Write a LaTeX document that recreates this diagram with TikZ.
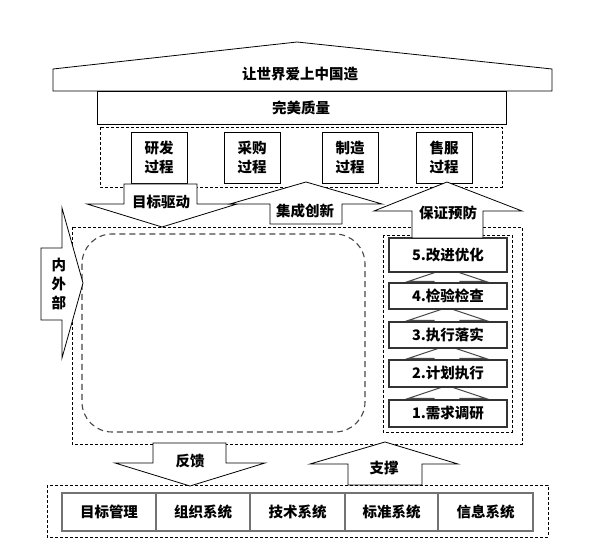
\documentclass[tikz,border=0pt]{standalone}
\usepackage{fontspec}
\newfontfamily\cjk{Noto Sans CJK SC}
\begin{document}
\begin{tikzpicture}[x=1pt,y=-1pt,
  lbl/.style={font=\cjk\bfseries\fontsize{14.5}{19}\selectfont, inner sep=0pt, align=center},
  shapeline/.style={draw=black, line width=0.8pt, fill=white, line join=miter},
  dashbox/.style={draw=black, line width=0.6pt, dash pattern=on 3pt off 2pt},
  rdash/.style={draw=black!72, line width=1.1pt, dash pattern=on 6pt off 4pt, rounded corners=30pt},
  procbox/.style={lbl, draw=black, line width=0.8pt, fill=white, minimum width=56pt, minimum height=51pt},
  stepbox/.style={lbl, draw=black!80, line width=1.2pt, fill=white, minimum width=118pt},
  stepar/.style={draw=black!70, line width=1.1pt, fill=white},
  sysbox/.style={lbl, draw=black!55, line width=1.8pt, fill=white, minimum height=38pt}
]
\useasboundingbox (0,0) rectangle (598,556);
\fill[white] (0,0) rectangle (598,556);

% roof
\draw[shapeline] (53,91) -- (53,69) -- (297,42) -- (552,69) -- (552,91) -- cycle;
\node[lbl] (roof) at (300,74) {让世界爱上中国造};
% quality
\draw[shapeline] (97,91) rectangle (506,124);
\node[lbl] (quality) at (301,108) {完美质量};

% dashed containers
\draw[dashbox] (100,127) rectangle (502,187);
\draw[dashbox] (72,227) rectangle (522,444);
\draw[rdash] (82,234) rectangle (365,432);
\draw[dashbox] (383,235) rectangle (512,432);
\draw[dashbox] (47,485) rectangle (548,537);

% process boxes
\node[procbox] (p1) at (159,157.5) {研发\\过程};
\node[procbox] (p2) at (252,157.5) {采购\\过程};
\node[procbox] (p3) at (350,157.5) {制造\\过程};
\node[procbox] (p4) at (444,157.5) {售服\\过程};

% big arrows
\draw[shapeline] (124,184) -- (197,184) -- (197,204) -- (237,204) -- (162,227) -- (87,204) -- (124,204) -- cycle;
\node[lbl] (a1) at (161,202) {目标驱动};
\draw[shapeline] (306,182) -- (382,204) -- (342,204) -- (342,224) -- (270,224) -- (270,204) -- (230,204) -- cycle;
\node[lbl] (a2) at (305,211) {集成创新};

% step arrows
\foreach \b in {398.5,358.5,320.5,281.5}{
  \draw[stepar] (447,\b-13) -- (486,\b) -- (460,\b) -- (460,\b+8) -- (434,\b+8) -- (434,\b) -- (408,\b) -- cycle;
}
% step boxes
\node[stepbox, minimum height=34pt] (s5) at (448,255) {5.改进优化};
\node[stepbox, minimum height=26pt] (s4) at (448,296) {4.检验检查};
\node[stepbox, minimum height=26pt] (s3) at (448,335) {3.执行落实};
\node[stepbox, minimum height=27pt] (s2) at (448,373.5) {2.计划执行};
\node[stepbox, minimum height=27pt] (s1) at (448,413.5) {1.需求调研};

\draw[shapeline] (447,182) -- (522,211) -- (483,211) -- (483,238) -- (412,238) -- (412,211) -- (374,211) -- cycle;
\node[lbl] (a3) at (448,213) {保证预防};

% inner/outer arrow
\draw[shapeline] (41,248) -- (62,248) -- (62,208) -- (83,283) -- (62,358) -- (62,320) -- (41,320) -- cycle;
\node[lbl] (a4) at (59,284) {内\\外\\部};

% feedback / support
\draw[shapeline] (153,443) -- (226,443) -- (226,463) -- (265,463) -- (190,486) -- (115,463) -- (153,463) -- cycle;
\node[lbl] (a5) at (190,461) {反馈};
\draw[shapeline] (385,442) -- (458,464) -- (422,464) -- (422,485) -- (348,485) -- (348,464) -- (310,464) -- cycle;
\node[lbl] (a6) at (384,468) {支撑};

% system boxes
\node[sysbox, minimum width=94pt] (b1) at (109,512) {目标管理};
\node[sysbox, minimum width=94pt] (b2) at (203,512) {组织系统};
\node[sysbox, minimum width=95pt] (b3) at (297.5,512) {技术系统};
\node[sysbox, minimum width=93pt] (b4) at (391.5,512) {标准系统};
\node[sysbox, minimum width=95pt] (b5) at (485.5,512) {信息系统};
\end{tikzpicture}
\end{document}
